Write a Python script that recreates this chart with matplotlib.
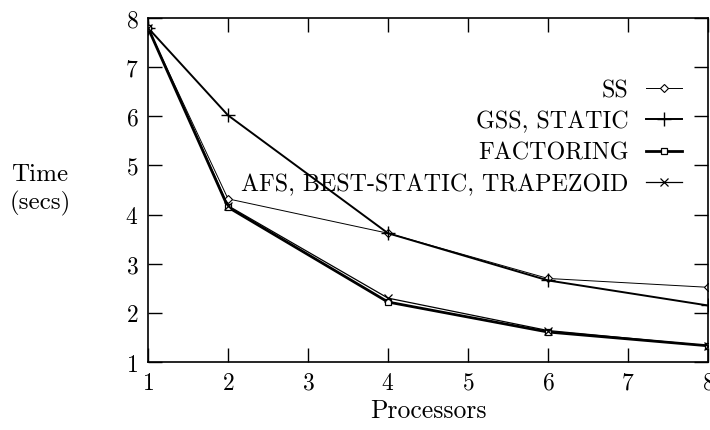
import matplotlib
matplotlib.use("Agg")
import matplotlib.pyplot as plt

plt.rcParams['font.family'] = ['cmr10', 'DejaVu Serif']
plt.rcParams['axes.formatter.use_mathtext'] = True
plt.rcParams['mathtext.fontset'] = 'cm'

# Data
processors = [1, 2, 4, 6, 8]
ss = [7.8, 4.32, 3.62, 2.70, 2.52]
gss_static = [7.8, 6.02, 3.62, 2.66, 2.15]
factoring = [7.8, 4.15, 2.22, 1.61, 1.33]
afs = [7.8, 4.18, 2.30, 1.64, 1.33]

fig = plt.figure(figsize=(7.1, 4.31), dpi=100)
ax = fig.add_axes([148 / 710, 1 - 363 / 431, 560 / 710, 344 / 431])

ax.plot(processors, ss, color='black', lw=0.7, marker='D', ms=4, mfc='white', mew=0.8, label='SS')
ax.plot(processors, gss_static, color='black', lw=1.4, marker='+', ms=10, mew=1.0, label='GSS, STATIC')
ax.plot(processors, factoring, color='black', lw=2.0, marker='s', ms=5, mfc='white', mew=0.9, label='FACTORING')
ax.plot(processors, afs, color='black', lw=0.9, marker='x', ms=6, mew=0.9, label='AFS, BEST-STATIC, TRAPEZOID')

ax.set_xlim(1, 8)
ax.set_ylim(1, 8)
ax.set_xticks(range(1, 9))
ax.set_yticks(range(1, 9))
ax.tick_params(direction='in', length=10, width=1, top=True, right=True, labelsize=17, pad=7)
for s in ax.spines.values():
    s.set_linewidth(1.2)

ax.set_xlabel('Processors', fontsize=18.5, labelpad=3)
fig.text(40 / 710, 1 - 190 / 431, 'Time\n(secs)', fontsize=18, ha='center', va='center', linespacing=1.3)

ax.legend(loc='upper right', bbox_to_anchor=(0.97, 0.85), frameon=False, markerfirst=False,
          fontsize=17.3, handlelength=1.5, labelspacing=0.38, borderaxespad=0, handletextpad=0.7)

fig.savefig('out.png', dpi=100)
